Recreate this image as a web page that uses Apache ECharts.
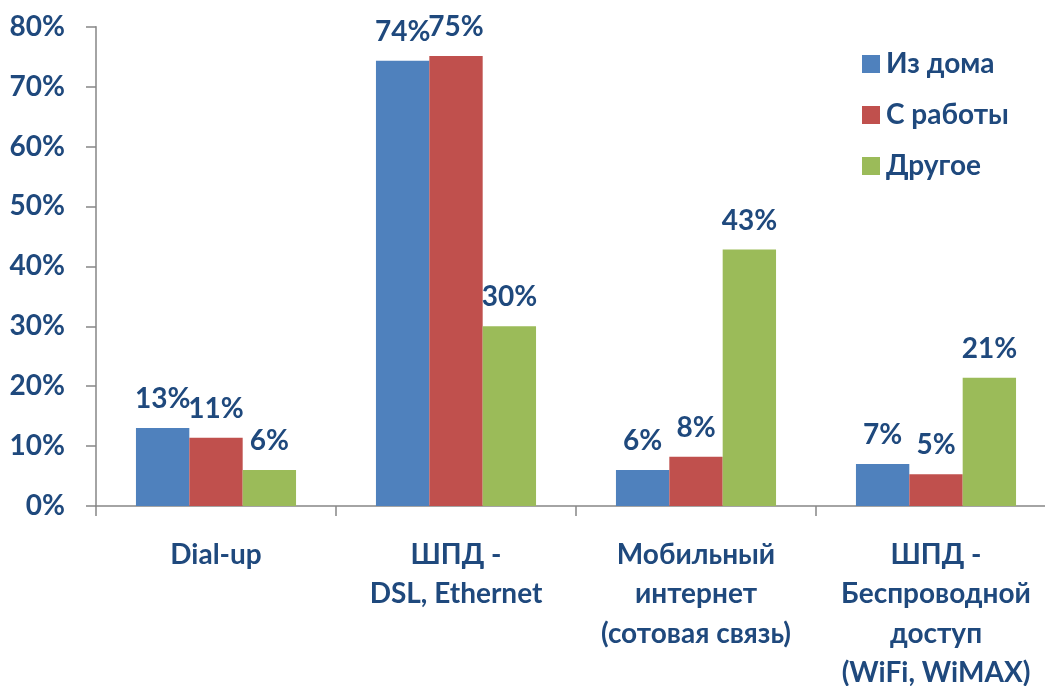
<!DOCTYPE html>
<html>
<head>
<meta charset="utf-8">
<script src="https://cdn.jsdelivr.net/npm/echarts@6/dist/echarts.min.js"></script>
<style>
html,body{margin:0;padding:0;background:#fff;}
#chart{width:1045px;height:686px;}
</style>
</head>
<body>
<div id="chart"></div>
<script>
const categories = ['Dial-up', 'ШПД -\nDSL, Ethernet', 'Мобильный\nинтернет\n(сотовая связь)', 'ШПД -\nБеспроводной\nдоступ\n(WiFi, WiMAX)'];
const seriesNames = ['Из дома', 'С работы', 'Другое'];
const fromHome = [13.0, 74.3, 6.0, 7.0];
const fromWork = [11.4, 75.1, 8.2, 5.3];
const other = [6.0, 30.0, 42.8, 21.4];
const yTicks = [0, 10, 20, 30, 40, 50, 60, 70, 80];

const textColor = '#1F497D';
const axisGrey = '#868686';
const font = 'Lato';
const colors = ['#4F81BD', '#C0504D', '#9BBB59'];

function mkSeries(name, data, color) {
  return {
    name: name,
    type: 'bar',
    data: data,
    barGap: '0%',
    barCategoryGap: '33.3%',
    itemStyle: { color: color },
    label: {
      show: true,
      position: 'top',
      distance: 15,
      formatter: p => Math.round(p.value) + '%',
      color: textColor,
      fontFamily: font,
      fontWeight: 'bold',
      fontSize: 28
    }
  };
}

const chart = echarts.init(document.getElementById('chart'), null, { renderer: 'canvas' });
chart.setOption({
  animation: false,
  backgroundColor: '#fff',
  grid: { left: 96, top: 26.7, width: 960, height: 479.3, containLabel: false, outerBoundsMode: 'none' },
  legend: {
    orient: 'vertical',
    left: 857,
    top: 44,
    itemWidth: 18,
    itemHeight: 18,
    itemGap: 21,
    icon: 'rect',
    data: seriesNames,
    textStyle: { color: textColor, fontFamily: font, fontWeight: 'bold', fontSize: 28, lineHeight: 30, padding: [0, 0, 0, 1] }
  },
  xAxis: {
    type: 'category',
    data: categories,
    axisLine: { lineStyle: { color: axisGrey, width: 1.5 } },
    axisTick: { show: true, length: 10, alignWithLabel: false, lineStyle: { color: axisGrey, width: 1.5 } },
    axisLabel: {
      interval: 0,
      margin: 29,
      color: textColor,
      fontFamily: font,
      fontWeight: 'bold',
      fontSize: 28,
      lineHeight: 39.5,
      align: 'center'
    }
  },
  yAxis: {
    type: 'value',
    min: yTicks[0],
    max: yTicks[yTicks.length - 1],
    interval: 10,
    splitLine: { show: false },
    axisLine: { show: true, lineStyle: { color: axisGrey, width: 1.5 } },
    axisTick: { show: true, length: 10, lineStyle: { color: axisGrey, width: 1.5 } },
    axisLabel: {
      margin: 31,
      formatter: '{value}%',
      color: textColor,
      fontFamily: font,
      fontWeight: 'bold',
      fontSize: 28
    }
  },
  series: [
    mkSeries(seriesNames[0], fromHome, colors[0]),
    mkSeries(seriesNames[1], fromWork, colors[1]),
    mkSeries(seriesNames[2], other, colors[2])
  ]
});
</script>
</body>
</html>
